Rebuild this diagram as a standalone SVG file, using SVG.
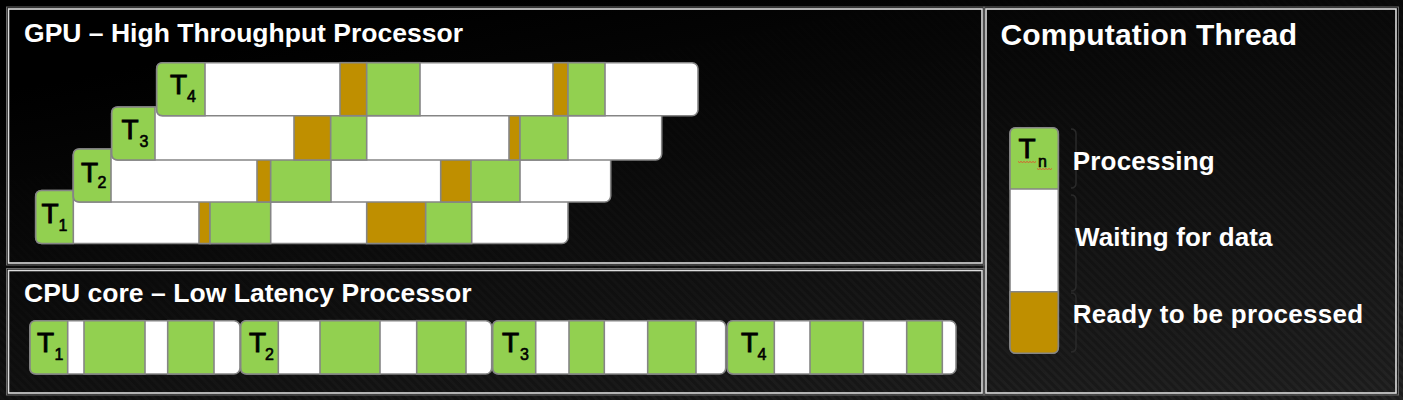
<svg xmlns="http://www.w3.org/2000/svg" width="1403" height="400" viewBox="0 0 1403 400">
<style>
.bar{fill:#fff;stroke:#858585;stroke-width:1.6}
.g{fill:#92D050;stroke:#858585;stroke-width:1.6}
.b{fill:#BF8F00;stroke:#858585;stroke-width:1.6}
.pin{fill:none;stroke:#dcdcdc;stroke-width:1.6}
.pout{fill:none;stroke:#6a6a6a;stroke-width:1}
.title{font-family:"Liberation Sans",Arial,sans-serif;font-weight:bold;fill:#fff}
.tl{font-family:"Liberation Sans",Arial,sans-serif;font-size:28px;fill:#000;stroke:#000;stroke-width:0.9}
.ts{font-size:16px;stroke-width:0.6}
.brace{fill:none;stroke:#2a2a2a;stroke-width:1.5}
.squig{fill:none;stroke:#e0502a;stroke-width:0.9}
</style>
<defs>
<linearGradient id="bg" x1="0.35" y1="0" x2="1" y2="1">
<stop offset="0" stop-color="#000"/>
<stop offset="1" stop-color="#1c1c1c"/>
</linearGradient>
<pattern id="stripes" width="6" height="6" patternUnits="userSpaceOnUse" patternTransform="rotate(-45)">
<rect width="3" height="6" fill="#fff" fill-opacity="0.035"/>
</pattern>
<linearGradient id="fade" x1="0.3" y1="0" x2="1" y2="1">
<stop offset="0" stop-color="#000"/>
<stop offset="1" stop-color="#fff"/>
</linearGradient>
<mask id="m"><rect width="1403" height="400" fill="url(#fade)"/></mask>
</defs>
<rect width="1403" height="400" fill="url(#bg)"/>
<rect width="1403" height="400" fill="url(#stripes)" mask="url(#m)"/>

<g id="panel-gpu">
<rect class="pout" x="6.5" y="7" width="977.5" height="258"/>
<rect class="pin" x="8.5" y="9" width="973.5" height="254"/>
<text class="title" x="24" y="41.5" font-size="26.5" textLength="439" lengthAdjust="spacing">GPU – High Throughput Processor</text>
</g>
<g id="panel-cpu">
<rect class="pout" x="6.5" y="268.5" width="977.5" height="126.5"/>
<rect class="pin" x="8.5" y="270.5" width="973.5" height="122.5"/>
<text class="title" x="24" y="301.5" font-size="26.5" textLength="447.5" lengthAdjust="spacing">CPU core – Low Latency Processor</text>
</g>
<g id="panel-legend">
<rect class="pout" x="984" y="7" width="414.5" height="388"/>
<rect class="pin" x="986" y="9" width="410" height="384"/>
<text class="title" x="1000.5" y="45" font-size="30" textLength="296.5" lengthAdjust="spacing">Computation Thread</text>
</g>

<g id="gpu-t1">
<rect class="bar" x="35.7" y="190.5" width="532.3" height="53" rx="6"/>
<path class="g" d="M73.3,190.5 H41.7 Q35.7,190.5 35.7,196.5 V237.5 Q35.7,243.5 41.7,243.5 H73.3 Z"/>
<rect class="b" x="199" y="190.5" width="11" height="53"/>
<rect class="g" x="210" y="190.5" width="60.7" height="53"/>
<rect class="b" x="366.7" y="190.5" width="59" height="53"/>
<rect class="g" x="425.7" y="190.5" width="46" height="53"/>
<text class="tl" x="41.5" y="223.3">T<tspan class="ts" x="58.5" y="230.7">1</tspan></text>
</g>
<g id="gpu-t2">
<rect class="bar" x="73.3" y="149" width="537.4" height="53" rx="6"/>
<path class="g" d="M111,149 H79.3 Q73.3,149 73.3,155 V196 Q73.3,202 79.3,202 H111 Z"/>
<rect class="b" x="257" y="149" width="13.7" height="53"/>
<rect class="g" x="270.7" y="149" width="60.3" height="53"/>
<rect class="b" x="440.7" y="149" width="30.3" height="53"/>
<rect class="g" x="471" y="149" width="49" height="53"/>
<text class="tl" x="81" y="181.7">T<tspan class="ts" x="97.5" y="188.3">2</tspan></text>
</g>
<g id="gpu-t3">
<rect class="bar" x="111.7" y="107" width="550" height="53" rx="6"/>
<path class="g" d="M155,107 H117.7 Q111.7,107 111.7,113 V154 Q111.7,160 117.7,160 H155 Z"/>
<rect class="b" x="294" y="107" width="36.7" height="53"/>
<rect class="g" x="330.7" y="107" width="36" height="53"/>
<rect class="b" x="509" y="107" width="11" height="53"/>
<rect class="g" x="520" y="107" width="48" height="53"/>
<text class="tl" x="121.5" y="139.3">T<tspan class="ts" x="139.5" y="146.7">3</tspan></text>
</g>
<g id="gpu-t4">
<rect class="bar" x="156.7" y="62.7" width="541.3" height="53" rx="6"/>
<path class="g" d="M205,62.7 H162.7 Q156.7,62.7 156.7,68.7 V109.7 Q156.7,115.7 162.7,115.7 H205 Z"/>
<rect class="b" x="340" y="62.7" width="26.7" height="53"/>
<rect class="g" x="366.7" y="62.7" width="53.3" height="53"/>
<rect class="b" x="553" y="62.7" width="15" height="53"/>
<rect class="g" x="568" y="62.7" width="37" height="53"/>
<text class="tl" x="170" y="94.3">T<tspan class="ts" x="187" y="102.3">4</tspan></text>
</g>

<g id="cpu-t1">
<rect class="bar" x="30" y="320.7" width="210" height="53.3" rx="6"/>
<path class="g" d="M67.7,320.7 H36 Q30,320.7 30,326.7 V368 Q30,374 36,374 H67.7 Z"/>
<rect class="g" x="84" y="320.7" width="61" height="53.3"/>
<rect class="g" x="167.7" y="320.7" width="46.3" height="53.3"/>
<text class="tl" x="37" y="352.3">T<tspan class="ts" x="54.5" y="360">1</tspan></text>
</g>
<g id="cpu-t2">
<rect class="bar" x="240.7" y="320.7" width="251" height="53.3" rx="6"/>
<path class="g" d="M278.3,320.7 H246.7 Q240.7,320.7 240.7,326.7 V368 Q240.7,374 246.7,374 H278.3 Z"/>
<rect class="g" x="320" y="320.7" width="60" height="53.3"/>
<rect class="g" x="416.7" y="320.7" width="49.3" height="53.3"/>
<text class="tl" x="249" y="352.3">T<tspan class="ts" x="265" y="360">2</tspan></text>
</g>
<g id="cpu-t3">
<rect class="bar" x="492.7" y="320.7" width="233" height="53.3" rx="6"/>
<path class="g" d="M535.7,320.7 H498.7 Q492.7,320.7 492.7,326.7 V368 Q492.7,374 498.7,374 H535.7 Z"/>
<rect class="g" x="569" y="320.7" width="35.3" height="53.3"/>
<rect class="g" x="647.7" y="320.7" width="48.3" height="53.3"/>
<text class="tl" x="502" y="352.3">T<tspan class="ts" x="520" y="360">3</tspan></text>
</g>
<g id="cpu-t4">
<rect class="bar" x="727.3" y="320.7" width="228.7" height="53.3" rx="6"/>
<path class="g" d="M774.3,320.7 H733.3 Q727.3,320.7 727.3,326.7 V368 Q727.3,374 733.3,374 H774.3 Z"/>
<rect class="g" x="810" y="320.7" width="53.3" height="53.3"/>
<rect class="g" x="906.7" y="320.7" width="35.6" height="53.3"/>
<text class="tl" x="741" y="352.3">T<tspan class="ts" x="757.5" y="360">4</tspan></text>
</g>

<g id="legend-bar">
<rect class="bar" x="1010" y="127.7" width="48.3" height="225.6" rx="6"/>
<path class="g" d="M1010,189 V133.7 Q1010,127.7 1016,127.7 H1052.3 Q1058.3,127.7 1058.3,133.7 V189 Z"/>
<path class="b" d="M1010,291.7 V347.3 Q1010,353.3 1016,353.3 H1052.3 Q1058.3,353.3 1058.3,347.3 V291.7 Z"/>
<text class="tl" x="1018.5" y="158">T<tspan class="ts" x="1038" y="166.7">n</tspan></text>
<path class="squig" d="M1018,161.5 l1.5,1 l1.5,-1 l1.5,1 l1.5,-1 l1.5,1 l1.5,-1 l1.5,1 l1.5,-1 l1.5,1 l1.5,-1 l1.5,1 l1.5,-1"/>
<path class="squig" d="M1037,168.5 l1.5,1 l1.5,-1 l1.5,1 l1.5,-1 l1.5,1 l1.5,-1 l1.5,1 l1.5,-1 l1.5,1 l1.5,-1"/>
</g>
<g id="connectors">
<path class="brace" d="M1071,129 Q1076,129 1076,134 V154 Q1076,158.5 1079,158.5 Q1076,158.5 1076,163 V183 Q1076,188 1071,188"/>
<path class="brace" d="M1071,195 Q1076,195 1076,200 V238 Q1076,243 1079,243 Q1076,243 1076,248 V286 Q1076,291 1071,291"/>
<path class="brace" d="M1071,293 Q1076,293 1076,298 V318 Q1076,322.5 1079,322.5 Q1076,322.5 1076,327 V347 Q1076,352 1071,352"/>
</g>
<g id="legend-labels">
<text class="title" x="1072.7" y="169.5" font-size="26" textLength="142" lengthAdjust="spacing">Processing</text>
<text class="title" x="1075" y="246.3" font-size="26" textLength="197.5" lengthAdjust="spacing">Waiting for data</text>
<text class="title" x="1072.7" y="322.8" font-size="26" textLength="290.5" lengthAdjust="spacing">Ready to be processed</text>
</g>
</svg>
